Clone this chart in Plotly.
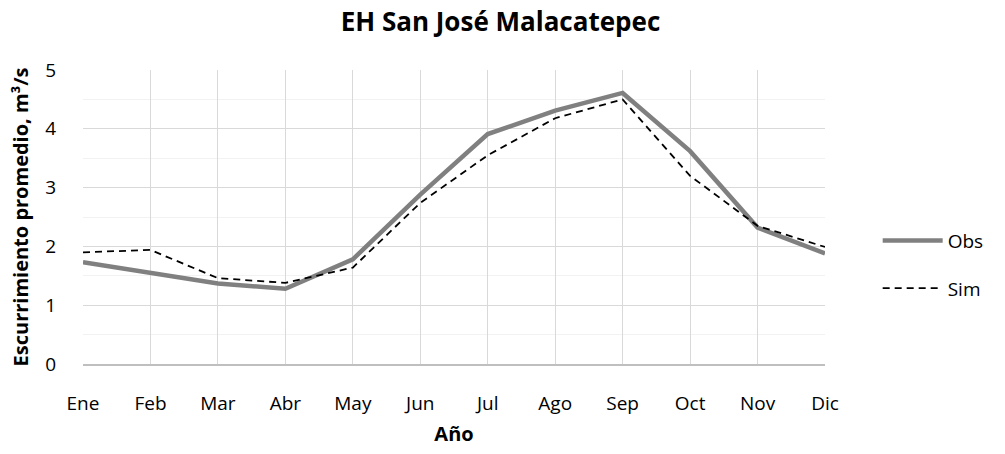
import plotly.graph_objects as go

meses = ["Ene", "Feb", "Mar", "Abr", "May", "Jun", "Jul", "Ago", "Sep", "Oct", "Nov", "Dic"]
obs = [1.73, 1.55, 1.37, 1.28, 1.78, 2.88, 3.91, 4.31, 4.61, 3.62, 2.32, 1.88]
sim = [1.90, 1.94, 1.46, 1.38, 1.64, 2.74, 3.55, 4.18, 4.50, 3.20, 2.35, 1.99]

FONT = "Open Sans"

fig = go.Figure()
fig.add_trace(go.Scatter(x=meses, y=obs, name="Obs", mode="lines", legendgroup="a",
                         line=dict(color="#808080", width=4.5)))
fig.add_trace(go.Scatter(x=meses, y=sim, name="Sim", mode="lines", legendgroup="b",
                         line=dict(color="#000000", width=1.8, dash="7px,5px")))

fig.update_layout(
    width=1005, height=454,
    margin=dict(l=83, r=180, t=70, b=90),
    paper_bgcolor="white", plot_bgcolor="white",
    font=dict(family=FONT, size=19, color="#000000"),
    title=dict(text="<b>EH San José Malacatepec</b>", x=0.498, xanchor="center",
               y=0.951, yanchor="middle", font=dict(size=26, family=FONT)),
    legend=dict(x=1.071, y=0.338, xanchor="left", yanchor="middle",
                font=dict(size=19, family=FONT), itemwidth=60,
                traceorder="grouped", tracegroupgap=20, bgcolor="rgba(0,0,0,0)"),
    xaxis=dict(
        range=[0, 11], showgrid=True, gridcolor="#d9d9d9", gridwidth=1,
        showline=True, linecolor="#bfbfbf", linewidth=1.5,
        ticks="", ticklabelstandoff=21, zeroline=False,
        title=dict(text="<b>Año</b>", font=dict(size=20), standoff=12),
    ),
    yaxis=dict(
        range=[0, 5], dtick=1, showgrid=True, gridcolor="#d9d9d9", gridwidth=1,
        minor=dict(dtick=0.5, showgrid=True, gridcolor="#f2f2f2", gridwidth=1),
        showline=False, zeroline=False, ticks="", ticklabelstandoff=26,
        title=dict(text="<b>Escurrimiento promedio, m³/s</b>", font=dict(size=20), standoff=11),
    ),
)
fig.update_xaxes(type="category")

fig.write_html("out.html", config={"displayModeBar": False},
               post_script="document.body.style.margin='0';")
